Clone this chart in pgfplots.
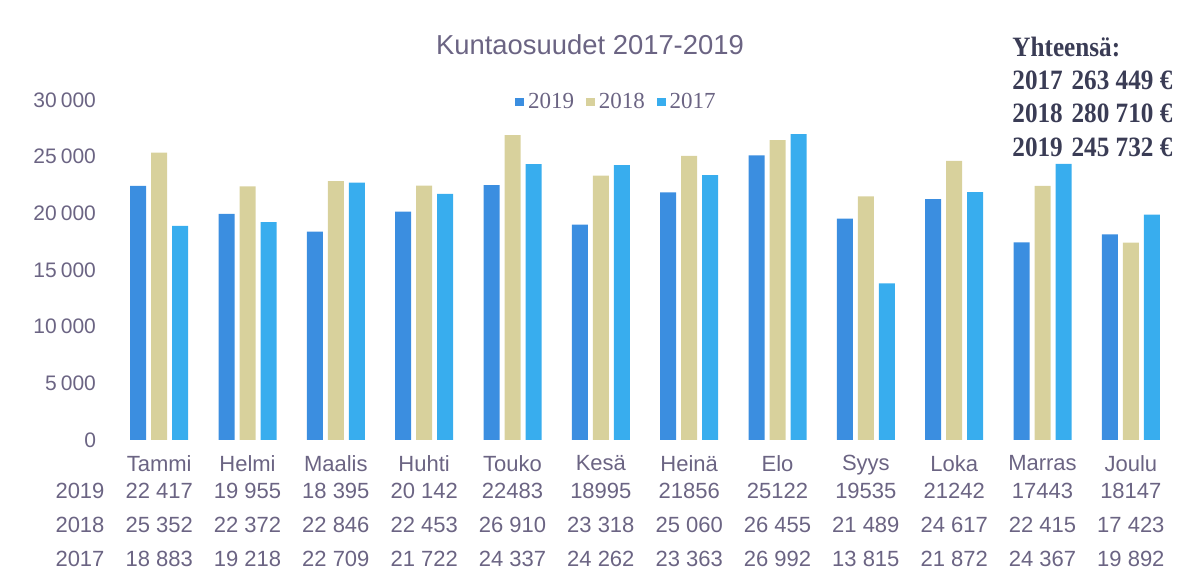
\documentclass[border=0pt]{standalone}
\usepackage{fontspec}
\setmainfont{Liberation Sans}
\newfontfamily\serif{Liberation Serif}
\usepackage{pgfplots}
\pgfplotsset{compat=1.18}
\definecolor{c19}{HTML}{3B8EE0}
\definecolor{c18}{HTML}{D8D19C}
\definecolor{c17}{HTML}{38ADEE}
\definecolor{txt}{HTML}{6B6483}
\definecolor{boxtxt}{HTML}{3A3C55}
\newcommand\tot[1]{\scalebox{0.9}[1]{#1}}
\begin{document}
\begin{tikzpicture}[x=1pt,y=1pt]
\useasboundingbox (0,0) rectangle (597,285.5);
\begin{axis}[
    at={(57.5pt,65.5pt)}, anchor=south west,
    scale only axis, width=530pt, height=170pt,
    ybar=2.5pt, bar width=8pt,
    xmin=-0.5, xmax=11.5, ymin=0, ymax=30000,
    axis line style={draw=none}, tick style={draw=none},
    xtick={0,...,11},
    xticklabels={Tammi,Helmi,Maalis,Huhti,Touko,Kesä,Heinä,Elo,Syys,Loka,Marras,Joulu},
    ytick={0,5000,10000,15000,20000,25000,30000},
    scaled y ticks=false,
    /pgf/number format/assume math mode=true,
    /pgf/number format/1000 sep={\hspace{0.2em}},
    ticklabel style={font=\fontsize{10.5}{12}\selectfont, text=txt},
    xticklabel style={font=\fontsize{11}{13}\selectfont},
    yticklabel style={xshift=-6pt},
    clip=false,
    legend columns=3,
    legend style={draw=none, fill=none, at={(0.474,0.994)}, anchor=center,
        font=\serif\fontsize{11.5}{13}\selectfont, text=txt,
        /tikz/every even column/.append style={column sep=4pt}},
    legend image code/.code={\fill[#1,draw=none] (0pt,-2.2pt) rectangle (4.4pt,2.2pt);},
]
\addplot[fill=c19, draw=none] coordinates {(0,22417) (1,19955) (2,18395) (3,20142) (4,22483) (5,18995) (6,21856) (7,25122) (8,19535) (9,21242) (10,17443) (11,18147)};
\addplot[fill=c18, draw=none] coordinates {(0,25352) (1,22372) (2,22846) (3,22453) (4,26910) (5,23318) (6,25060) (7,26455) (8,21489) (9,24617) (10,22415) (11,17423)};
\addplot[fill=c17, draw=none] coordinates {(0,18883) (1,19218) (2,22709) (3,21722) (4,24337) (5,24262) (6,23363) (7,26992) (8,13815) (9,21872) (10,24367) (11,19892)};
\legend{2019,2018,2017}
\end{axis}
% title
\node[text=txt, font=\fontsize{13.7}{16}\selectfont] at (295,263) {Kuntaosuudet 2017-2019};
% totals
\begin{scope}[every node/.style={anchor=west, text=boxtxt, font=\serif\bfseries\fontsize{14}{16}\selectfont, inner sep=0pt}]
\node at (506,262) {\tot{Yhteensä:}};
\node at (506,245.5) {\tot{2017\hspace{0.35em}263 449 €}};
\node at (506,229) {\tot{2018\hspace{0.35em}280 710 €}};
\node at (506,212) {\tot{2019\hspace{0.35em}245 732 €}};
\end{scope}
% data table
\begin{scope}[every node/.style={text=txt, font=\fontsize{11}{13}\selectfont, inner sep=0pt}]
\node at (40,40) {2019};
\node at (40,23) {2018};
\node at (40,6) {2017};
\foreach \v [count=\i from 0] in {22 417,19 955,18 395,20 142,22483,18995,21856,25122,19535,21242,17443,18147}
  \node at ({57.5+44.167*(\i+0.5)},40) {\v};
\foreach \v [count=\i from 0] in {25 352,22 372,22 846,22 453,26 910,23 318,25 060,26 455,21 489,24 617,22 415,17 423}
  \node at ({57.5+44.167*(\i+0.5)},23) {\v};
\foreach \v [count=\i from 0] in {18 883,19 218,22 709,21 722,24 337,24 262,23 363,26 992,13 815,21 872,24 367,19 892}
  \node at ({57.5+44.167*(\i+0.5)},6) {\v};
\end{scope}
\end{tikzpicture}
\end{document}
